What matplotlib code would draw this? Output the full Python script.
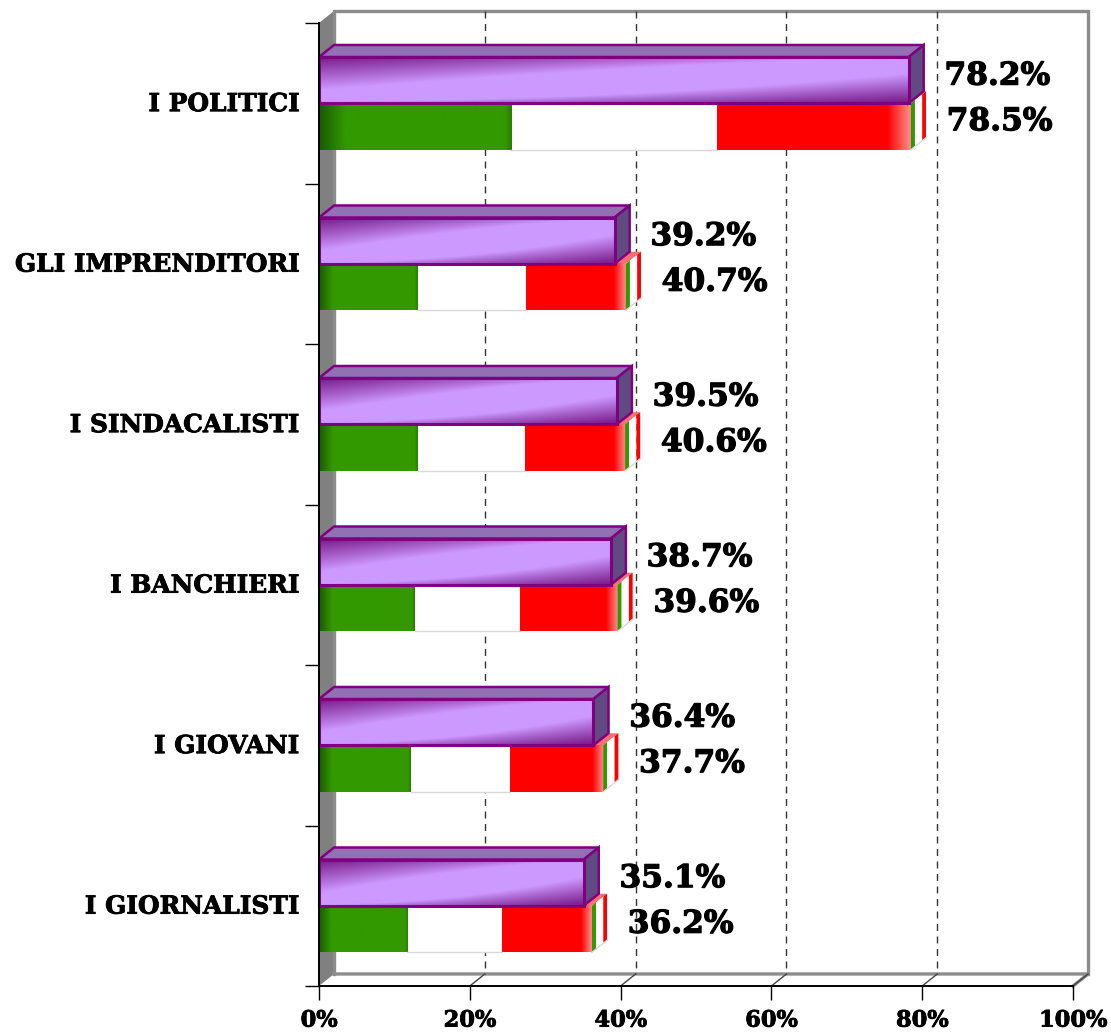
import numpy as np
import matplotlib
matplotlib.use('Agg')
import matplotlib.pyplot as plt
import matplotlib.patheffects as pe
from matplotlib.patches import Polygon

categories = ['I POLITICI', 'GLI IMPRENDITORI', 'I SINDACALISTI', 'I BANCHIERI', 'I GIOVANI', 'I GIORNALISTI']
purple_values = [78.2, 39.2, 39.5, 38.7, 36.4, 35.1]
flag_totals = [78.5, 40.7, 40.6, 39.6, 37.7, 36.2]
green_values = [25.5, 13.1, 13.1, 12.7, 12.2, 11.7]
white_values = [27.3, 14.4, 14.2, 14.0, 13.1, 12.6]
red_values = [25.7, 13.2, 13.3, 12.9, 12.4, 11.9]
x_ticks = [0, 20, 40, 60, 80, 100]
x_labels = ['0%', '20%', '40%', '60%', '80%', '100%']

plt.rcParams['font.family'] = 'DejaVu Serif'

DX = 2.0    # 3d depth in x units
DY = 0.075  # 3d depth in category units
PURPLE_TOP = 0.212
MID = 0.5
FLAG_BOTTOM = 0.79
LABEL_GAP = 4.75

fig = plt.figure(figsize=(11.11, 10.32), dpi=100)
ax = fig.add_axes([319 / 1111, 1 - 986 / 1032, 754 / 1111, 963 / 1032])


def poly(points, color, z, edge='none', lw=0):
    ax.add_patch(Polygon(points, closed=True, facecolor=color, edgecolor=edge, linewidth=lw,
                         zorder=z, clip_on=False, joinstyle='miter'))


def purple_image():
    # dark on top at the left end, dark at the bottom at the right end
    v, u = np.mgrid[0:1:60j, 0:1:200j]
    dark_top = np.clip(1 - v / (0.7 * (1 - u) ** 1.5 + 0.03), 0, 1) * (1 - u) ** 0.8
    dark_bot = np.clip(1 - (1 - v) / (0.6 * u ** 2 + 0.03), 0, 1) * u ** 0.8
    dark = np.maximum(dark_top, dark_bot)
    light = np.array([0.80, 0.60, 1.0])
    deep = np.array([0.47, 0.10, 0.53])
    return light + (deep - light) * dark[..., None]


def hgrad(stops, colors, n=200):
    u = np.linspace(0, 1, n)
    rgb = [np.interp(u, stops, [c[k] for c in colors]) for k in range(3)]
    return np.dstack(rgb)


green = (0.2, 0.6, 0.0)
dgreen = (0.09, 0.36, 0.0)
red = (1.0, 0.0, 0.0)
pink = (1.0, 0.55, 0.55)
green_img = hgrad([0, 0.14, 0.97, 1], [dgreen, green, green, (0.15, 0.5, 0.0)])
red_img = hgrad([0, 0.88, 1], [red, red, pink])

bold_value = [pe.withStroke(linewidth=0.9, foreground='black')]
bold_label = [pe.withStroke(linewidth=0.6, foreground='black')]

# walls
poly([(0, 0), (DX, -DY), (DX, 6 - DY), (0, 6)], '#808080', 1)
ax.plot([DX, DX, 100 + DX, 100 + DX], [6 - DY, -DY, -DY, 6 - DY], color='#8c8c8c', lw=2.4, zorder=1.5,
        clip_on=False, solid_joinstyle='miter')
ax.plot([DX, 100 + DX, 100], [6 - DY, 6 - DY, 6], color='#8c8c8c', lw=2.4, zorder=1.5, clip_on=False)

# dashed gridlines on the back wall
for t in x_ticks[1:-1]:
    ax.plot([t + DX, t + DX], [-DY, 6 - DY], color='#333333', lw=1, dashes=(5, 4), zorder=2, clip_on=False)
for t in x_ticks[1:]:
    ax.plot([t, t + DX], [6, 6 - DY], color='#444444', lw=1, zorder=2, clip_on=False)

for i in range(len(categories)):
    top = i + MID
    bot = i + FLAG_BOTTOM
    g = green_values[i]
    w = g + white_values[i]
    end = w + red_values[i]

    # flag bar
    poly([(0, top), (DX, top - DY), (end + DX, top - DY), (end, top)], '#ff6e6e', 2.8)
    ax.imshow(green_img, extent=[0, g, bot, top], aspect='auto', zorder=3)
    ax.imshow(red_img, extent=[w, end, bot, top], aspect='auto', zorder=3)
    ax.add_patch(plt.Rectangle((g, top), w - g, bot - top, facecolor='white', edgecolor='none', zorder=2.9))
    ax.plot([g, w], [bot, bot], color='#d9d9d9', lw=1, zorder=3)
    # flag side, green / white / red stripes
    stripes = [(0, 0.27, '#339900'), (0.27, 0.75, '#ffffff'), (0.75, 1, '#ff0000')]
    for a, b, c in stripes:
        poly([(end + a * DX, top - a * DY), (end + b * DX, top - b * DY),
              (end + b * DX, bot - b * DY), (end + a * DX, bot - a * DY)], c, 3.2)
    ax.plot([end, end + DX], [bot, bot - DY], color='#d9d9d9', lw=1, zorder=3.3)

    # purple bar
    p = purple_values[i]
    ptop = i + PURPLE_TOP
    poly([(0, ptop), (DX, ptop - DY), (p + DX, ptop - DY), (p, ptop)], '#9170b4', 4, '#800080', 1.8)
    poly([(p, ptop), (p + DX, ptop - DY), (p + DX, top - DY), (p, top)], '#5f4b82', 4, '#800080', 1.8)
    ax.imshow(purple_image(), extent=[0, p, top, ptop], aspect='auto', zorder=4.1)
    poly([(0, ptop), (p, ptop), (p, top), (0, top)], 'none', 4.2, '#800080', 2.2)

    # values
    ax.text(p + LABEL_GAP, i + 0.331, '%.1f%%' % p, fontsize=22.5, fontweight='bold', va='center', ha='left',
            zorder=6, clip_on=False, path_effects=bold_value)
    ax.text(flag_totals[i] + LABEL_GAP, i + 0.615, '%.1f%%' % flag_totals[i], fontsize=22.5, fontweight='bold',
            va='center', ha='left', zorder=6, clip_on=False, path_effects=bold_value)

ax.set_xlim(0, 100)
ax.set_ylim(6, 0)
ax.set_facecolor('none')
ax.spines['top'].set_visible(False)
ax.spines['right'].set_visible(False)
ax.spines['left'].set_linewidth(1.4)
ax.spines['bottom'].set_linewidth(1.4)
for s in ax.spines.values():
    s.set_zorder(5)

ax.set_xticks(x_ticks)
ax.set_xticklabels(x_labels, fontsize=16.2, fontweight='bold', path_effects=bold_label)
ax.tick_params(axis='x', length=10, width=1, pad=7)
ax.set_yticks(range(7))
ax.set_yticklabels([])
ax.tick_params(axis='y', which='major', length=10, width=1)
ax.set_yticks([i + 0.49 for i in range(6)], minor=True)
ax.set_yticklabels(categories, minor=True, fontsize=17.9, fontweight='bold', path_effects=bold_label)
ax.tick_params(axis='y', which='minor', length=0, pad=14)

fig.savefig('out.png', dpi=100)
